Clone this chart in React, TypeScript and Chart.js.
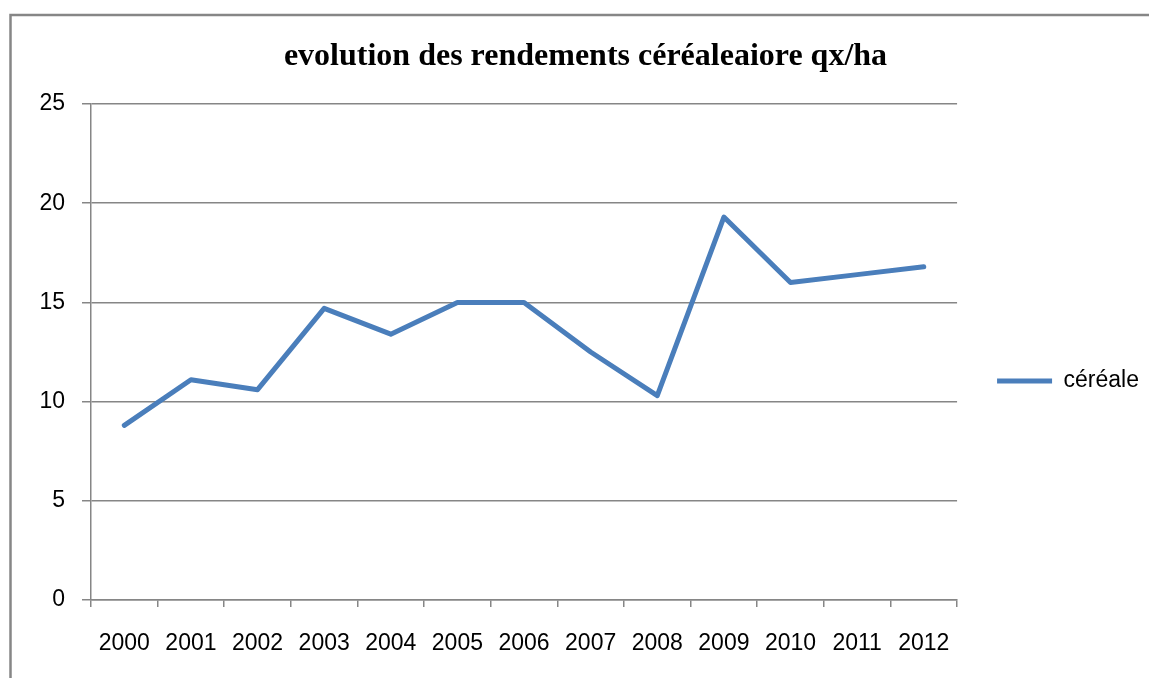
import React, { useEffect, useRef } from "react";
import { Chart, registerables } from "chart.js";

Chart.register(...registerables);

const titleText = "evolution des rendements céréaleaiore qx/ha";
const seriesLabel = "céréale";
const years = ["2000", "2001", "2002", "2003", "2004", "2005", "2006", "2007", "2008", "2009", "2010", "2011", "2012"];
const cerealYields = [8.8, 11.1, 10.6, 14.7, 13.4, 15.0, 15.0, 12.5, 10.3, 19.3, 16.0, 16.4, 16.8];
const yMin = 0;
const yMax = 25;
const yStep = 5;

const W = 1149;
const H = 678;
const GRID = "#868686";
const LINE = "#4a7ebb";
const TICK_FONT = { family: "'Liberation Sans', Arial, sans-serif", size: 23 };

const framePlugin = {
  id: "frame",
  beforeDraw(chart: any) {
    const ctx = chart.ctx;
    ctx.save();
    ctx.fillStyle = "#ffffff";
    ctx.fillRect(0, 0, chart.width, chart.height);
    ctx.strokeStyle = "#868686";
    ctx.lineWidth = 2.5;
    ctx.beginPath();
    ctx.moveTo(10.5, chart.height + 5);
    ctx.lineTo(10.5, 15);
    ctx.lineTo(chart.width + 5, 15);
    ctx.stroke();
    ctx.restore();
  },
};

export default function App() {
  const ref = useRef<HTMLCanvasElement>(null);
  useEffect(() => {
    if (!ref.current) return;
    const chart = new Chart(ref.current, {
      type: "line",
      data: {
        labels: years,
        datasets: [
          {
            label: seriesLabel,
            data: cerealYields,
            borderColor: LINE,
            backgroundColor: LINE,
            borderWidth: 5,
            pointRadius: 0,
            pointHoverRadius: 0,
            pointStyle: "line",
            tension: 0,
            borderCapStyle: "round",
            borderJoinStyle: "round",
          },
        ],
      },
      options: {
        responsive: false,
        animation: false,
        layout: { padding: { left: 22, right: 0, top: 0, bottom: 0 } },
        plugins: {
          title: {
            display: true,
            text: titleText,
            color: "#000",
            font: { family: "'Liberation Serif', 'Times New Roman', serif", size: 32, weight: "bold" },
            padding: { top: 38, bottom: 27.6 },
          },
          legend: {
            display: true,
            position: "right",
            title: { display: true, text: " ", font: { size: 10 }, padding: 36 },
            labels: {
              usePointStyle: true,
              pointStyle: "line",
              pointStyleWidth: 55,
              padding: 40,
              color: "#000",
              font: TICK_FONT,
            },
          },
          tooltip: { enabled: false },
        },
        scales: {
          x: {
            offset: true,
            grid: {
              display: true,
              offset: true,
              drawOnChartArea: false,
              drawTicks: true,
              tickLength: 7,
              color: GRID,
              lineWidth: 1.5,
            },
            border: { display: true, color: GRID, width: 1.5 },
            ticks: { color: "#000", font: TICK_FONT, padding: 23, maxRotation: 0, autoSkip: false },
            afterFit(scale: any) {
              scale.height = 78;
            },
          },
          y: {
            min: yMin,
            max: yMax,
            grid: { color: GRID, lineWidth: 1.5, tickLength: 9 },
            border: { display: true, color: GRID, width: 1.5 },
            ticks: { stepSize: yStep, color: "#000", font: TICK_FONT, padding: 17 },
            afterFit(scale: any) {
              scale.width = 69;
            },
          },
        },
      },
      plugins: [framePlugin],
    } as any);
    return () => chart.destroy();
  }, []);
  return (
    <div style={{ position: "absolute", left: 0, top: 0, width: W, height: H }}>
      <canvas ref={ref} width={W} height={H} style={{ display: "block", width: W, height: H }} />
    </div>
  );
}
